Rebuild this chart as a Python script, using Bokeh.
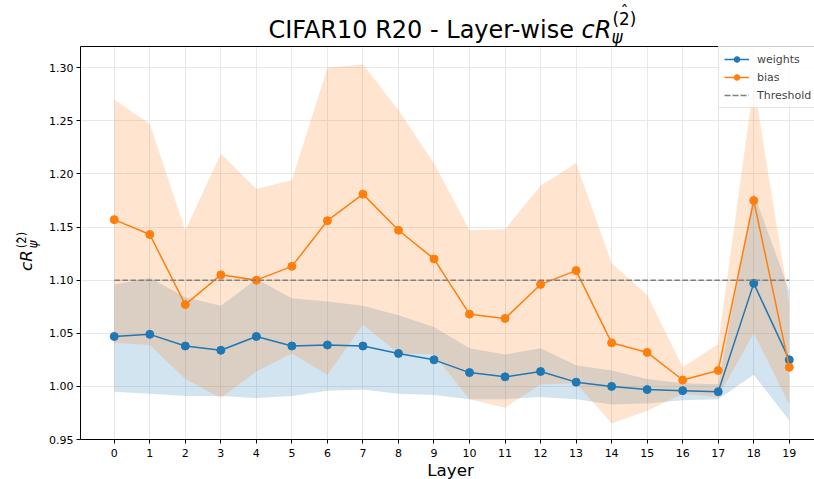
import math
from bokeh.plotting import figure
from bokeh.layouts import column, row
from bokeh.models import (Range1d, FixedTicker, LinearAxis, Legend, LegendItem,
                          NumeralTickFormatter, ColumnDataSource)
from bokeh.core.properties import value
from bokeh.embed import file_html
from bokeh.resources import INLINE

# ---------------- data ----------------
layers = list(range(20))
weights_mean = [1.047, 1.049, 1.038, 1.034, 1.047, 1.038, 1.039, 1.038, 1.031, 1.025,
                1.013, 1.009, 1.014, 1.004, 1.000, 0.997, 0.996, 0.995, 1.097, 1.025]
weights_upper = [1.096, 1.102, 1.084, 1.076, 1.101, 1.083, 1.080, 1.076, 1.067, 1.056,
                 1.036, 1.030, 1.036, 1.020, 1.015, 1.007, 1.003, 1.002, 1.182, 1.090]
weights_lower = [0.995, 0.993, 0.991, 0.991, 0.989, 0.991, 0.996, 0.997, 0.993, 0.992,
                 0.988, 0.988, 0.990, 0.988, 0.983, 0.984, 0.987, 0.988, 1.011, 0.968]
bias_mean = [1.157, 1.143, 1.077, 1.105, 1.100, 1.113, 1.156, 1.181, 1.147, 1.120,
             1.068, 1.064, 1.096, 1.109, 1.041, 1.032, 1.006, 1.015, 1.175, 1.018]
bias_upper = [1.270, 1.247, 1.147, 1.219, 1.186, 1.194, 1.300, 1.303, 1.260, 1.210,
              1.147, 1.148, 1.189, 1.210, 1.116, 1.086, 1.018, 1.040, 1.285, 1.078]
bias_lower = [1.041, 1.039, 1.007, 0.989, 1.014, 1.031, 1.011, 1.058, 1.031, 1.030,
              0.988, 0.980, 1.002, 1.003, 0.965, 0.977, 0.993, 0.990, 1.050, 0.983]
threshold = [1.10] * len(layers)
x_ticks = layers
y_ticks = [0.95, 1.00, 1.05, 1.10, 1.15, 1.20, 1.25, 1.30]

BLUE = "#1f77b4"
ORANGE = "#ff7f0e"
FONT = "DejaVu Sans"

src = ColumnDataSource(dict(x=layers, wm=weights_mean, wu=weights_upper, wl=weights_lower,
                            bm=bias_mean, bu=bias_upper, bl=bias_lower, th=threshold))

# ---------------- main plot ----------------
p = figure(width=768, height=415, output_backend="svg", toolbar_location=None, title=None,
           x_range=Range1d(-0.95, 19.71), y_range=Range1d(0.95, 1.32),
           min_border_left=32, min_border_right=0, min_border_top=0, min_border_bottom=22)
p.outline_line_color = None
p.background_fill_color = "white"
p.border_fill_color = "white"

p.varea(x="x", y1="wl", y2="wu", source=src, fill_color=BLUE, fill_alpha=0.2)
p.varea(x="x", y1="bl", y2="bu", source=src, fill_color=ORANGE, fill_alpha=0.2)

wline = p.line(x="x", y="wm", source=src, line_color=BLUE, line_width=1.5)
wsc = p.scatter(x="x", y="wm", source=src, size=8, fill_color=BLUE, line_color=BLUE)
bline = p.line(x="x", y="bm", source=src, line_color=ORANGE, line_width=1.5)
bsc = p.scatter(x="x", y="bm", source=src, size=8, fill_color=ORANGE, line_color=ORANGE)
tline = p.line(x="x", y="th", source=src, line_color="#808080", line_width=1.5, line_dash="6 2")

for ax in (p.xaxis, p.yaxis):
    ax.axis_line_color = "black"
    ax.axis_line_width = 1
    ax.major_tick_line_color = "black"
    ax.major_tick_out = 4
    ax.major_tick_in = 0
    ax.minor_tick_line_color = None
    ax.major_label_text_font = FONT
    ax.major_label_text_font_size = "11px"
    ax.major_label_text_color = "black"
    ax.major_label_standoff = 3
p.xaxis.major_label_standoff = 5
p.xaxis.ticker = FixedTicker(ticks=x_ticks)
p.yaxis.ticker = FixedTicker(ticks=y_ticks)
p.yaxis.formatter = NumeralTickFormatter(format="0.00")
p.xgrid.ticker = FixedTicker(ticks=x_ticks)
p.ygrid.ticker = FixedTicker(ticks=y_ticks)
for g in (p.xgrid, p.ygrid):
    g.grid_line_color = "#e8e8e8"
    g.grid_line_width = 1

top_axis = LinearAxis(ticker=FixedTicker(ticks=[]), axis_line_color="black",
                      major_tick_line_color=None, minor_tick_line_color=None,
                      major_tick_out=0, major_label_standoff=0,
                      major_label_text_font_size="0px")
p.add_layout(top_axis, "above")

legend = Legend(items=[LegendItem(label="weights", renderers=[wline, wsc]),
                       LegendItem(label="bias", renderers=[bline, bsc]),
                       LegendItem(label="Threshold", renderers=[tline])],
                location=(638, 331), label_text_font=FONT, label_text_font_size="11px",
                glyph_width=25, glyph_height=14, label_height=14, spacing=4, padding=5,
                label_standoff=8, border_line_color="#cccccc", background_fill_alpha=0.8,
                margin=0)
p.add_layout(legend)


def txt(fig, x, y, s, size, style="normal", align="left", angle=0.0):
    fig.text(x=[x], y=[y], text=[s], text_font=value(FONT), text_font_size=value(size),
             text_font_style=style, text_align=align, text_baseline="alphabetic",
             text_color="black", angle=angle)


def strip(w, h):
    f = figure(width=w, height=h, output_backend="svg", toolbar_location=None, title=None,
               x_range=Range1d(0, w), y_range=Range1d(0, h),
               x_axis_location=None, y_axis_location=None, min_border=0)
    f.outline_line_color = None
    f.grid.visible = False
    return f

# ---------------- title strip (x = page px, y = 46 - page px) ----------------
t = strip(814, 46)
T0 = 46
txt(t, 573.4, T0 - 29, "CIFAR10 R20 - Layer-wise", "24px", align="right")
txt(t, 581, T0 - 29, "cR", "24px", style="italic")
txt(t, 612, T0 - 18.5, "(2)", "16.8px")
txt(t, 611, T0 - 36.5, "ψ", "16.8px", style="italic")
txt(t, 624, T0 - 10.5, "ˆ", "16px", align="center")

# ---------------- y-label strip (x = page px, y = 461 - page px) ----------------
yl = strip(46, 415)
R = math.pi / 2
Y0 = 461
txt(yl, 25, Y0 - 283, "cR", "16.7px", style="italic", angle=R)
txt(yl, 21, Y0 - 259, "(2)", "11.7px", angle=R)
txt(yl, 32, Y0 - 259, "ψ", "11.7px", style="italic", angle=R)
txt(yl, 21, Y0 - 251, "ˆ", "11px", align="center", angle=R)

# ---------------- x-label strip (x = page px, y = 479 - page px) ----------------
xl = strip(814, 18)
txt(xl, 450, 479 - 469.5, "Layer", "16.7px", align="center")

layout = column(t, row(yl, p, spacing=0), xl, spacing=0)

open("out.html", "w").write(file_html(layout, INLINE))
